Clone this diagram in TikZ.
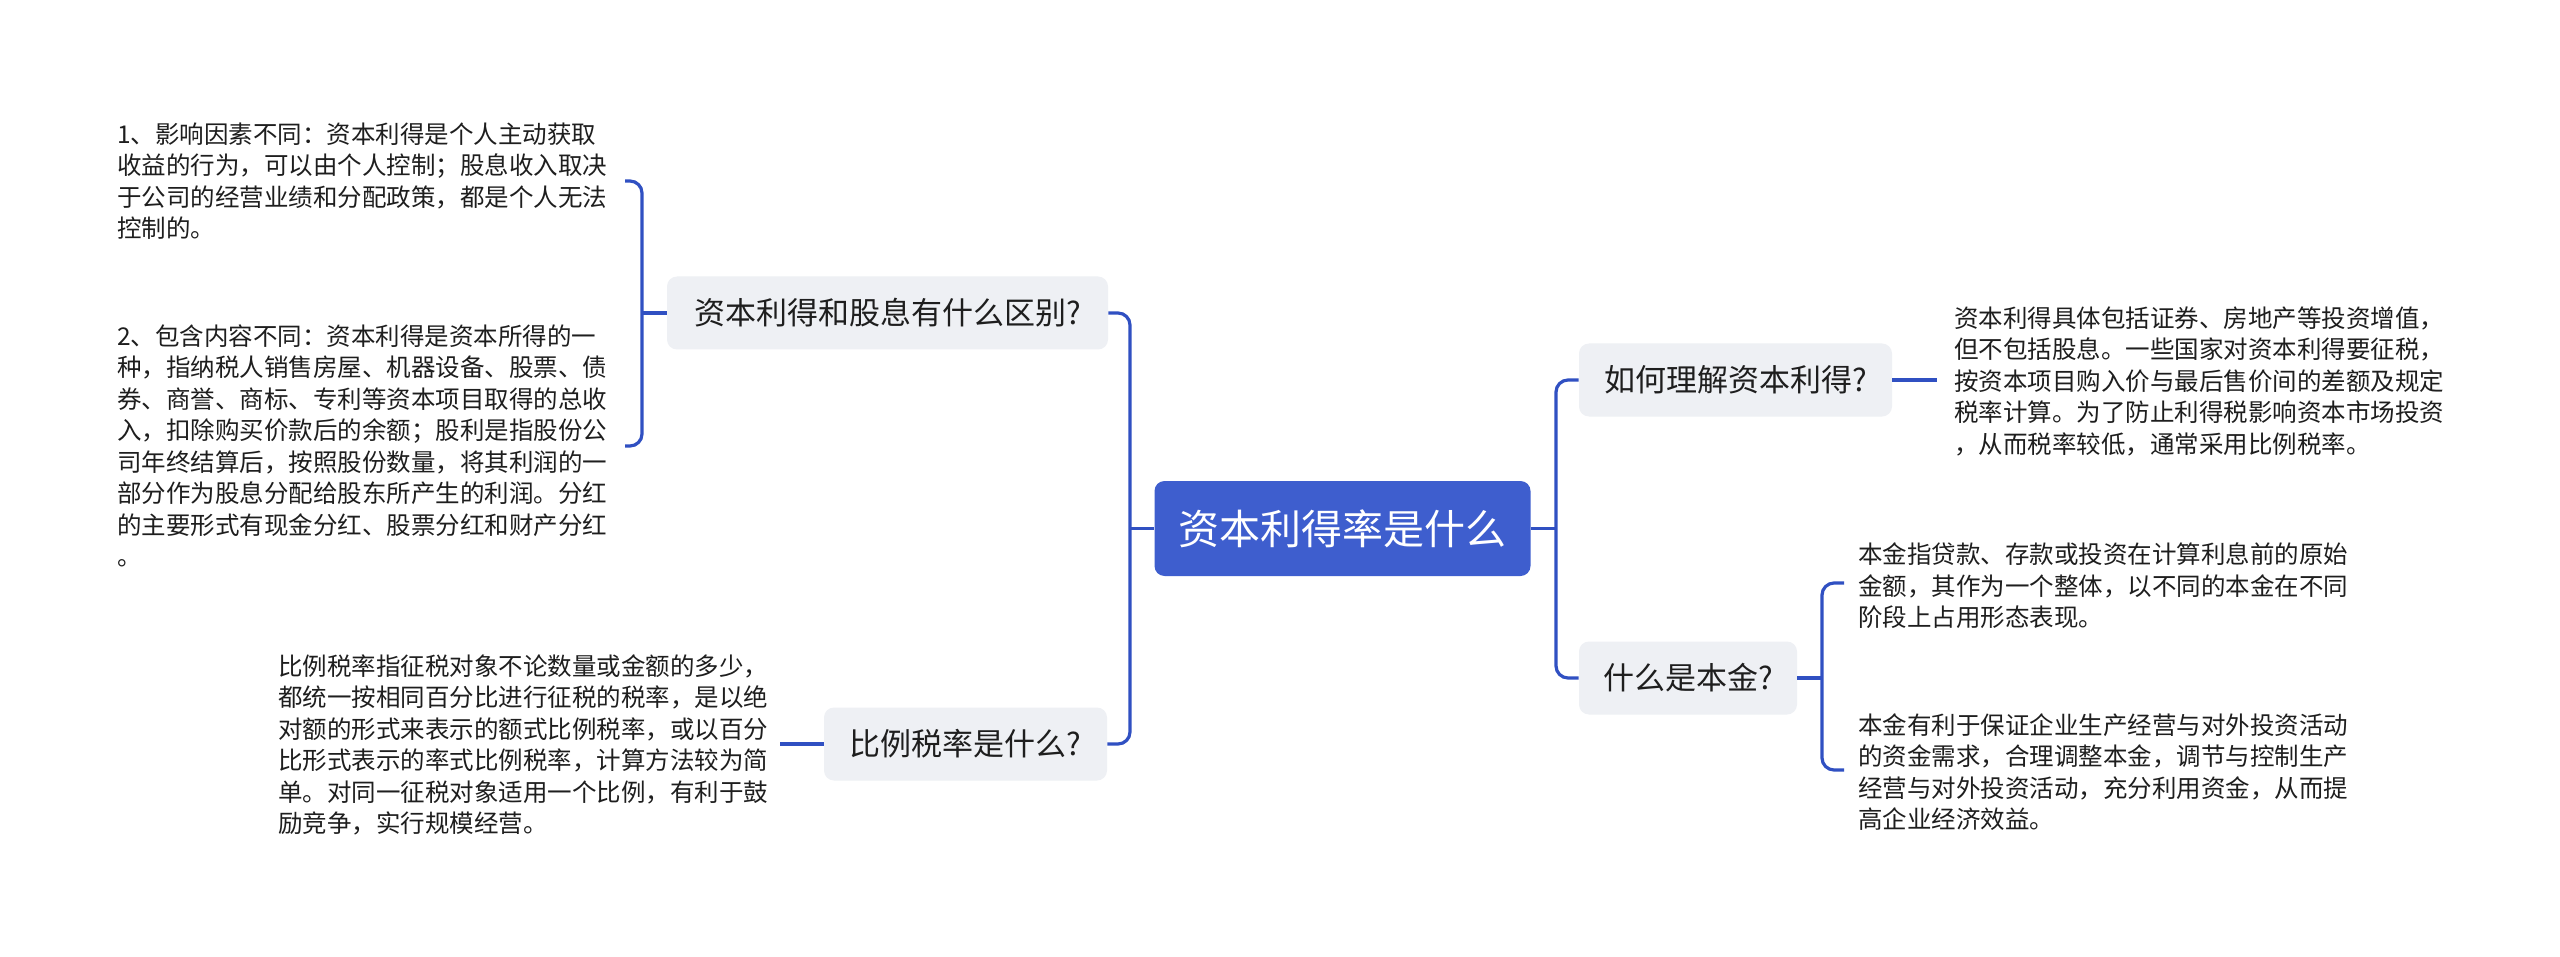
\documentclass[tikz,border=0pt]{standalone}
\usepackage{fontspec}
\setmainfont{Noto Sans CJK SC}
\definecolor{linec}{HTML}{3050C2}
\definecolor{centerc}{HTML}{3E5ECE}
\definecolor{nodefill}{HTML}{EEF0F4}
\definecolor{textc}{HTML}{1E1E1E}
\begin{document}
\begin{tikzpicture}[x=0.5pt,y=-0.5pt,
  conn/.style={draw=linec, line width=1.6pt, rounded corners=6pt},
  thinconn/.style={draw=linec, line width=1.2pt},
  topic/.style={rectangle, rounded corners=5pt, fill=nodefill, text=textc,
    font=\fontsize{15.5}{18}\selectfont, inner sep=0pt, minimum height=36.5pt},
  desc/.style={align=left, text=textc, font=\fontsize{12.25}{15.75}\selectfont,
    inner sep=0pt, anchor=west},
]
\useasboundingbox[fill=white] (0,0) rectangle (2560,957);

% central node
\node[rectangle, rounded corners=5pt, fill=centerc, text=white, inner sep=0pt,
  minimum width=188pt, minimum height=47.5pt,
  font=\fontsize{20.5}{24}\selectfont] (c) at (1342.5,528.5) {资本利得率是什么};

% topic nodes
\node[topic, minimum width=220.5pt] (n1) at (887.5,313) {资本利得和股息有什么区别?};
\node[topic, minimum width=141.5pt] (n2) at (965.5,744) {比例税率是什么?};
\node[topic, minimum width=156.5pt] (n3) at (1735.5,380) {如何理解资本利得?};
\node[topic, minimum width=109pt] (n4) at (1688,678) {什么是本金?};

% description texts
\node[desc] (t1a) at (117,181) {1、影响因素不同：资本利得是个人主动获取\\收益的行为，可以由个人控制；股息收入取决\\于公司的经营业绩和分配政策，都是个人无法\\控制的。};
\node[desc] (t1b) at (117,446) {2、包含内容不同：资本利得是资本所得的一\\种，指纳税人销售房屋、机器设备、股票、债\\券、商誉、商标、专利等资本项目取得的总收\\入，扣除购买价款后的余额；股利是指股份公\\司年终结算后，按照股份数量，将其利润的一\\部分作为股息分配给股东所产生的利润。分红\\的主要形式有现金分红、股票分红和财产分红\\。};
\node[desc] (t2) at (278,745) {比例税率指征税对象不论数量或金额的多少，\\都统一按相同百分比进行征税的税率，是以绝\\对额的形式来表示的额式比例税率，或以百分\\比形式表示的率式比例税率，计算方法较为简\\单。对同一征税对象适用一个比例，有利于鼓\\励竞争，实行规模经营。};
\node[desc] (t3) at (1954,381) {资本利得具体包括证券、房地产等投资增值，\\但不包括股息。一些国家对资本利得要征税，\\按资本项目购入价与最后售价间的差额及规定\\税率计算。为了防止利得税影响资本市场投资\\，从而税率较低，通常采用比例税率。};
\node[desc] (t4a) at (1858,586) {本金指贷款、存款或投资在计算利息前的原始\\金额，其作为一个整体，以不同的本金在不同\\阶段上占用形态表现。};
\node[desc] (t4b) at (1858,772) {本金有利于保证企业生产经营与对外投资活动\\的资金需求，合理调整本金，调节与控制生产\\经营与对外投资活动，充分利用资金，从而提\\高企业经济效益。};

% junction coordinates
\coordinate (lt) at (1130,528.5);
\coordinate (rt) at (1556,528.5);
\coordinate (lb) at (642,313);
\coordinate (rb) at (1822,678);
\coordinate (t1aend) at (625,181);
\coordinate (t1bend) at (625,446);
\coordinate (t2end) at (780,744);
\coordinate (t3end) at (1937,380);
\coordinate (t4aend) at (1844,583);
\coordinate (t4bend) at (1844,770);

% connectors
\draw[conn] (n1.east) -| (lt) |- (n2.east);
\draw[thinconn] (lt) -- (c.west);
\draw[conn] (n3.west) -| (rt) |- (n4.west);
\draw[thinconn] (c.east) -- (rt);
\draw[conn] (t1aend) -| (lb) |- (t1bend);
\draw[conn] (lb) -- (n1.west);
\draw[conn] (n2.west) -- (t2end);
\draw[conn] (n3.east) -- (t3end);
\draw[conn] (t4aend) -| (rb) |- (t4bend);
\draw[conn] (n4.east) -- (rb);
\end{tikzpicture}
\end{document}
